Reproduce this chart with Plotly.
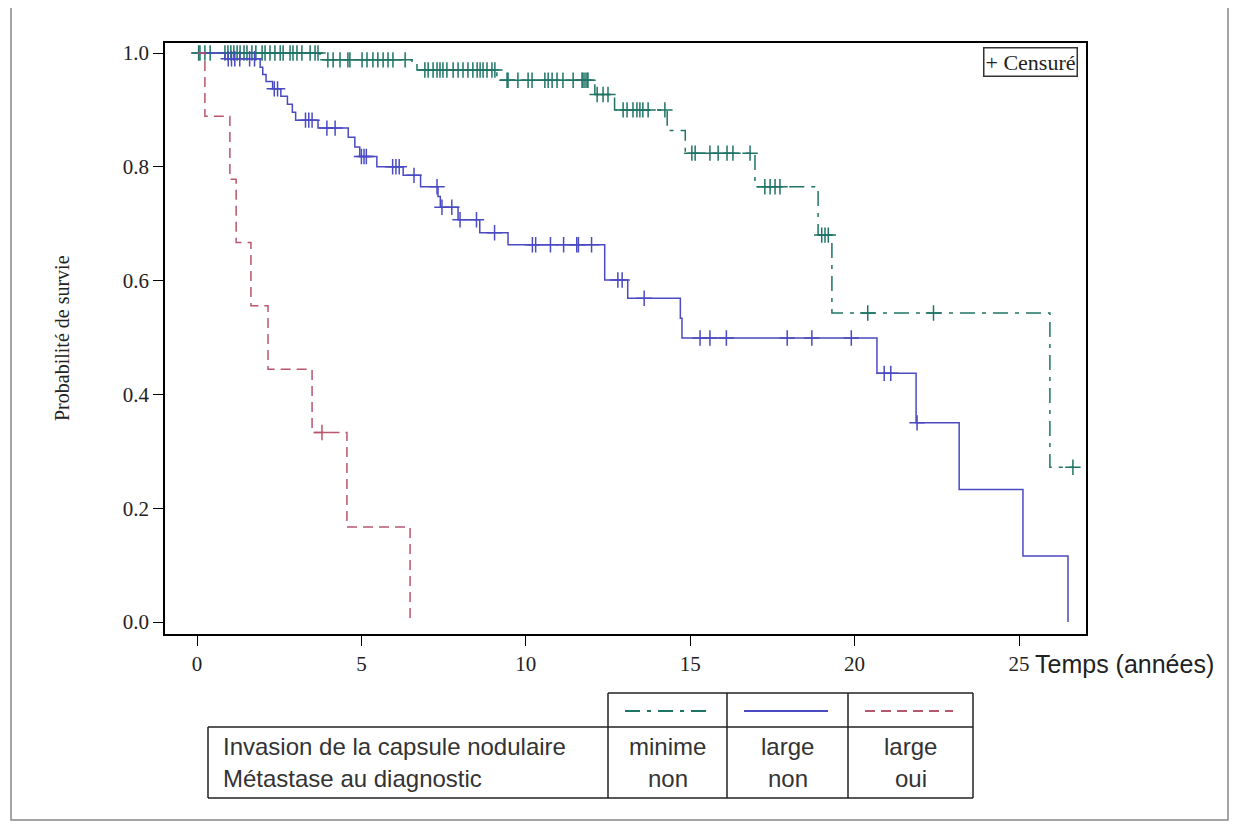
import plotly.graph_objects as go

# ---------------- DATA ----------------
# Group 1: invasion minime / métastase non (green, dash-dot)
green_event_t = [3.74, 6.54, 6.69, 9.12, 12.10, 12.70, 14.30, 14.85, 16.97, 18.89, 19.31, 25.94]
green_event_s = [0.988, 0.981, 0.970, 0.952, 0.927, 0.900, 0.864, 0.824, 0.765, 0.680, 0.543, 0.272]
green_end = 26.64
green_cens = [0.05, 0.09, 0.24, 0.40, 0.85, 0.94, 1.03, 1.12, 1.22, 1.31, 1.43, 1.52, 1.67, 1.79,
              1.98, 2.07, 2.22, 2.37, 2.53, 2.62, 2.83, 2.92, 3.04, 3.19, 3.44, 3.59, 3.68,
              3.98, 4.14, 4.35, 4.59, 4.65, 5.02, 5.17, 5.35, 5.50, 5.66, 5.81, 5.96, 6.33,
              6.93, 7.03, 7.18, 7.30, 7.39, 7.48, 7.60, 7.79, 7.94, 8.09, 8.24, 8.39, 8.52,
              8.61, 8.70, 8.82, 8.97, 9.06,
              9.43, 9.46, 9.76, 10.07, 10.19, 10.58, 10.68, 10.80, 10.95, 11.13, 11.44, 11.71,
              11.74, 11.80, 11.86, 11.89,
              12.17, 12.35, 12.50,
              12.96, 13.08, 13.26, 13.38, 13.47, 13.56, 13.72, 14.23,
              15.05, 15.15, 15.60, 15.85, 16.12, 16.30, 16.82,
              17.27, 17.43, 17.58, 17.73,
              19.00, 19.10, 19.20,
              20.40, 22.40,
              26.64]

# Group 2: invasion large / métastase non (blue, solid)
blue_event_t = [0.85, 1.92, 2.00, 2.10, 2.30, 2.55, 2.75, 2.90, 3.00, 3.68, 4.60, 4.80, 4.95,
                5.47, 6.27, 6.80, 7.33, 7.40, 7.94, 8.60, 9.46, 12.40, 13.10, 14.70, 14.75,
                20.68, 21.87, 23.18, 25.12, 26.49]
blue_event_s = [0.990, 0.975, 0.962, 0.950, 0.937, 0.924, 0.910, 0.896, 0.882, 0.868, 0.852,
                0.835, 0.818, 0.800, 0.785, 0.765, 0.748, 0.729, 0.707, 0.684, 0.663, 0.601,
                0.569, 0.534, 0.499, 0.437, 0.350, 0.233, 0.116, 0.0]
blue_end = 26.49
blue_cens = [0.95, 1.05, 1.15, 1.30, 1.60, 1.75, 2.35, 2.45, 3.30, 3.40, 3.50, 3.95, 4.20,
             5.00, 5.08, 5.15, 5.95, 6.05, 6.15, 6.60, 7.30, 7.45, 7.75, 8.00, 8.50, 9.05,
             10.20, 10.30, 10.75, 11.15, 11.55, 11.60, 12.00, 12.80, 12.93, 13.60,
             15.30, 15.60, 16.10, 17.95, 18.70, 19.90, 20.90, 21.10, 21.90]

# Group 3: invasion large / métastase oui (red, dashed)
red_event_t = [0.24, 1.00, 1.19, 1.64, 2.16, 3.50, 4.56, 6.48]
red_event_s = [0.889, 0.778, 0.667, 0.556, 0.444, 0.333, 0.167, 0.0]
red_end = 6.48
red_cens = [3.80]

x_ticks = [0, 5, 10, 15, 20, 25]
y_ticks = [0.0, 0.2, 0.4, 0.6, 0.8, 1.0]

table_row_labels = ["Invasion de la capsule nodulaire", "Métastase au diagnostic"]
table_invasion = ["minime", "large", "large"]
table_metastase = ["non", "non", "oui"]

x_title = "Temps (années)"
y_title = "Probabilité de survie"
censor_label = "+ Censuré"

# ---------------- STYLE ----------------
GREEN = "#1f7466"
BLUE = "#4a4ac2"
RED = "#b8566c"
green_dash = "15px,7px,4px,7px"
blue_dash = "solid"
red_dash = "10px,6px"

OFF = 8  # page body margin
W, H = 1238 - 2 * OFF, 829 - 2 * OFF
# plot area in reference-picture pixels
L, R, T, B = 165, 1086, 43, 634
X0PX, PX_PER_YEAR = 197, 32.88


def px(xp):
    return (xp - L) / (R - L)


def py(yp):
    return (B - yp) / (B - T)


def surv(t, ev_t, ev_s):
    s = 1.0
    for ti, si in zip(ev_t, ev_s):
        if ti <= t:
            s = si
    return s


fig = go.Figure()

groups = [
    (green_event_t, green_event_s, green_end, green_cens, GREEN, green_dash),
    (blue_event_t, blue_event_s, blue_end, blue_cens, BLUE, blue_dash),
    (red_event_t, red_event_s, red_end, red_cens, RED, red_dash),
]

for ev_t, ev_s, end, cens, col, dash in groups:
    xs = [0.0] + list(ev_t)
    ys = [1.0] + list(ev_s)
    if end > ev_t[-1]:
        xs.append(end)
        ys.append(ev_s[-1])
    fig.add_trace(go.Scatter(x=xs, y=ys, mode="lines", line_shape="hv",
                             line=dict(color=col, width=1.5, dash=dash),
                             showlegend=False, hoverinfo="skip"))
    cy = [surv(t, ev_t, ev_s) for t in cens]
    fig.add_trace(go.Scatter(x=cens, y=cy, mode="markers",
                             marker=dict(symbol="cross-thin", size=11,
                                         line=dict(color=col, width=1.5)),
                             showlegend=False, hoverinfo="skip"))

serif = "Liberation Serif"
sans = "Liberation Sans"

fig.update_xaxes(range=[(L - X0PX) / PX_PER_YEAR, (R - X0PX) / PX_PER_YEAR], tickvals=x_ticks,
                 ticktext=[str(v) for v in x_ticks],
                 showline=True, linecolor="black", linewidth=1.5, mirror=True,
                 ticks="outside", ticklen=10, tickwidth=1.3, tickcolor="black",
                 showgrid=False, zeroline=False,
                 tickfont=dict(family=serif, size=21, color="#222"))
fig.update_yaxes(range=[-12 / 569, 1 + 10 / 569], tickvals=y_ticks,
                 ticktext=[f"{v:.1f}" for v in y_ticks],
                 showline=True, linecolor="black", linewidth=1.5, mirror=True,
                 ticks="outside", ticklen=10, tickwidth=1.3, tickcolor="black",
                 showgrid=False, zeroline=False,
                 tickfont=dict(family=serif, size=21, color="#222"))

annotations = []
shapes = []

# axis titles
annotations.append(dict(text=y_title, x=px(62), y=py(338), xref="paper", yref="paper",
                        xanchor="center", yanchor="middle",
                        textangle=-90, showarrow=False,
                        font=dict(family=serif, size=20, color="#222")))
annotations.append(dict(text=x_title, x=px(1033), y=py(664), xref="paper", yref="paper",
                        xanchor="left", yanchor="middle", showarrow=False,
                        font=dict(family=sans, size=25, color="#222")))

# censor key
annotations.append(dict(text=censor_label, x=px(1078), y=py(62), xref="paper", yref="paper",
                        xanchor="right", yanchor="middle", showarrow=False,
                        bordercolor="#333", borderwidth=1.5, borderpad=1, bgcolor="white",
                        font=dict(family=serif, size=22, color="#222")))

# table
tx = [208, 608, 727, 848, 973]
ty = [693, 727, 798]
line_k = dict(color="#222", width=1.5)


def hline(x0, x1, y):
    shapes.append(dict(type="line", xref="paper", yref="paper", x0=px(x0), x1=px(x1),
                       y0=py(y), y1=py(y), line=line_k))


def vline(x, y0, y1):
    shapes.append(dict(type="line", xref="paper", yref="paper", x0=px(x), x1=px(x),
                       y0=py(y0), y1=py(y1), line=line_k))


hline(tx[1], tx[4], ty[0])
hline(tx[0], tx[4], ty[1])
hline(tx[0], tx[4], ty[2])
vline(tx[0], ty[1], ty[2])
for xv in tx[1:]:
    vline(xv, ty[0], ty[2])

samples = [(GREEN, green_dash), (BLUE, blue_dash), (RED, red_dash)]
for i, (col, dash) in enumerate(samples):
    x0, x1 = tx[i + 1], tx[i + 2]
    shapes.append(dict(type="line", xref="paper", yref="paper",
                       x0=px(x0 + 17), x1=px(x1 - 20), y0=py(711), y1=py(711),
                       line=dict(color=col, width=2, dash=dash)))
    cx = (x0 + x1) / 2
    annotations.append(dict(text=table_invasion[i], x=px(cx), y=py(746), xref="paper",
                            yref="paper", xanchor="center", yanchor="middle", showarrow=False,
                            font=dict(family=sans, size=24, color="#333")))
    annotations.append(dict(text=table_metastase[i], x=px(cx), y=py(778), xref="paper",
                            yref="paper", xanchor="center", yanchor="middle", showarrow=False,
                            font=dict(family=sans, size=24, color="#333")))

for j, lab in enumerate(table_row_labels):
    annotations.append(dict(text=lab, x=px(221), y=py(746 + 32 * j), xref="paper",
                            yref="paper", xanchor="left", yanchor="middle", showarrow=False,
                            font=dict(family=sans, size=24, color="#333")))

# outer border of the figure
shapes.append(dict(type="rect", xref="paper", yref="paper", x0=px(11), x1=px(1228),
                   y0=py(820), y1=py(7), line=dict(color="#888", width=1.5)))

fig.update_layout(width=W, height=H,
                  margin=dict(l=L - OFF, r=W - (R - OFF), t=T - OFF, b=H - (B - OFF)),
                  paper_bgcolor="white", plot_bgcolor="white",
                  annotations=annotations, shapes=shapes, showlegend=False)

fig.write_html("out.html")
